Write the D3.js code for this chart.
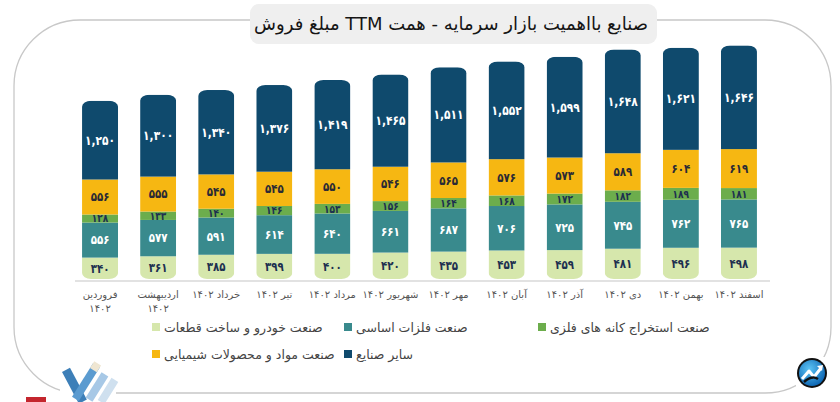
<!DOCTYPE html>
<html>
<head>
<meta charset="utf-8">
<script src="https://cdn.jsdelivr.net/npm/d3@7/dist/d3.min.js"></script>
<style>
  html, body { margin: 0; padding: 0; background: #ffffff; }
  svg { display: block; font-family: "DejaVu Sans", sans-serif; }
</style>
</head>
<body>
<svg id="chart" width="840" height="402"></svg>
<script>
// ---------------- data ----------------
const title = "مبلغ فروش TTM صنایع بااهمیت بازار سرمایه - همت";
const categories = ["فروردین ۱۴۰۲", "اردیبهشت ۱۴۰۲", "خرداد ۱۴۰۲", "تیر ۱۴۰۲", "مرداد ۱۴۰۲", "شهریور ۱۴۰۲",
                    "مهر ۱۴۰۲", "آبان ۱۴۰۲", "آذر ۱۴۰۲", "دی ۱۴۰۲", "بهمن ۱۴۰۲", "اسفند ۱۴۰۲"];
const seriesNames = ["صنعت خودرو و ساخت قطعات", "صنعت فلزات اساسی", "صنعت استخراج کانه های فلزی",
                     "صنعت مواد و محصولات شیمیایی", "سایر صنایع"];
const carValues      = [340, 361, 385, 399, 400, 420, 435, 453, 459, 481, 496, 498];
const metalsValues   = [556, 577, 591, 614, 640, 661, 687, 706, 725, 745, 762, 765];
const miningValues   = [128, 133, 140, 146, 153, 156, 164, 168, 172, 182, 189, 181];
const chemValues     = [556, 555, 545, 545, 550, 546, 565, 576, 573, 589, 604, 619];
const otherValues    = [1250, 1300, 1340, 1376, 1419, 1465, 1511, 1552, 1599, 1648, 1621, 1646];

// ---------------- styles ----------------
const colors = ["#d6e7ac", "#398a8d", "#6cad4c", "#f6b712", "#0f4a6d"];
const labelColors = ["#1d3050", "#ffffff", "#1d3050", "#2a2a35", "#ffffff"];

const seriesValues = [carValues, metalsValues, miningValues, chemValues, otherValues];
const keys = ["car", "metals", "mining", "chem", "other"];
const rows = categories.map((c, i) => {
  const r = { cat: c };
  keys.forEach((k, j) => r[k] = seriesValues[j][i]);
  return r;
});

const fa = s => String(s).replace(/\d/g, d => "۰۱۲۳۴۵۶۷۸۹"[+d]);
const fmt = v => fa(d3.format(",")(v));
const LRM = "\u200E";

const svg = d3.select("#chart");
const defs = svg.append("defs");

// ---------------- frame ----------------
svg.append("rect").attr("x", 14).attr("y", 20).attr("width", 817).attr("height", 373)
  .attr("rx", 66).attr("ry", 66).attr("fill", "none").attr("stroke", "#c8c8c8").attr("stroke-width", 1.3);

// title box
svg.append("rect").attr("x", 250).attr("y", 4).attr("width", 407).attr("height", 40)
  .attr("rx", 9).attr("fill", "#efefef");
svg.append("text").attr("x", 451).attr("y", 25).attr("text-anchor", "middle")
  .attr("direction", "ltr")
  .attr("dominant-baseline", "middle").attr("font-size", 18).attr("fill", "#151515")
  .text(LRM + title);

// ---------------- scales ----------------
const x = d3.scaleBand().domain(categories).range([71, 768]).paddingInner(0.38).paddingOuter(0.19);
const y = d3.scaleLinear().domain([0, 3700]).range([279, 46]);

const stack = d3.stack().keys(keys)(rows);

// baseline
svg.append("line").attr("x1", 75).attr("x2", 770).attr("y1", 281).attr("y2", 281)
  .attr("stroke", "#e2e2e2").attr("stroke-width", 2);

// clip paths for rounded bars
rows.forEach((r, i) => {
  const total = keys.reduce((s, k) => s + r[k], 0);
  defs.append("clipPath").attr("id", "clip" + i)
    .append("rect")
    .attr("x", x(r.cat)).attr("width", x.bandwidth())
    .attr("y", y(total)).attr("height", y(0) - y(total))
    .attr("rx", 9).attr("ry", 6);
});

const barG = svg.append("g");
stack.forEach((layer, li) => {
  layer.forEach((d, i) => {
    barG.append("rect")
      .attr("clip-path", `url(#clip${i})`)
      .attr("x", x(d.data.cat))
      .attr("width", x.bandwidth())
      .attr("y", y(d[1]))
      .attr("height", y(d[0]) - y(d[1]))
      .attr("fill", colors[li]);
  });
});

// value labels
stack.forEach((layer, li) => {
  layer.forEach((d, i) => {
    const cx = x(d.data.cat) + x.bandwidth() / 2;
    const cy = (y(d[0]) + y(d[1])) / 2;
    svg.append("g").attr("transform", `translate(${cx},${cy}) scale(0.82,1)`)
      .append("text")
      .attr("text-anchor", "middle")
      .attr("dominant-baseline", "central")
      .attr("font-size", li === 2 ? 11 : (li === 4 ? 13 : 12.5))
      .attr("font-weight", "bold")
      .attr("fill", labelColors[li])
      .text(fmt(d[1] - d[0]));
  });
});

// x labels
categories.forEach((c, i) => {
  const cx = x(c) + x.bandwidth() / 2;
  const parts = c.split(" ");
  const t = svg.append("text").attr("x", cx).attr("y", 298).attr("text-anchor", "middle")
    .attr("font-size", 10).attr("fill", "#555");
  if (parts[0].length >= 7) {
    t.append("tspan").attr("x", cx).text(parts[0]);
    t.append("tspan").attr("x", cx).attr("dy", 14).text(parts[1]);
  } else {
    t.text(c);
  }
});

// ---------------- legend ----------------
const legendPos = [
  { s: 0, x: 152, y: 327 },
  { s: 1, x: 344, y: 327 },
  { s: 2, x: 538, y: 327 },
  { s: 3, x: 152, y: 354 },
  { s: 4, x: 344, y: 354 }
];
legendPos.forEach(p => {
  svg.append("rect").attr("x", p.x).attr("y", p.y - 4).attr("width", 8).attr("height", 8)
    .attr("fill", colors[p.s]);
  svg.append("text").attr("x", p.x + 12).attr("y", p.y).attr("dominant-baseline", "central")
    .attr("font-size", 12.5).attr("fill", "#444").text(seriesNames[p.s]);
});

// ---------------- decorations ----------------
// bottom-right logo
const grad = defs.append("radialGradient").attr("id", "lgGrad").attr("cx", "40%").attr("cy", "35%").attr("r", "70%");
grad.append("stop").attr("offset", "0%").attr("stop-color", "#5cc4f5");
grad.append("stop").attr("offset", "100%").attr("stop-color", "#0a62b0");
svg.append("rect").attr("x", 796).attr("y", 357).attr("width", 34).attr("height", 34).attr("fill", "#fff");
const lg = svg.append("g").attr("transform", "translate(812,373)");
lg.append("circle").attr("r", 15).attr("fill", "#111");
lg.append("circle").attr("r", 13).attr("fill", "url(#lgGrad)");
lg.append("path").attr("d", "M-10,6 L-3,-2 L2,4 L9,-5").attr("fill", "none").attr("stroke", "#fff")
  .attr("stroke-width", 3).attr("stroke-linejoin", "round");
lg.append("path").attr("d", "M5,-7 L11,-8 L10,-2 Z").attr("fill", "#fff");
lg.append("path").attr("d", "M-8,9 Q0,2 6,6").attr("fill", "none").attr("stroke", "#111").attr("stroke-width", 2.5);

// bottom-left logo
const bl = svg.append("g").attr("transform", "translate(62,358)");
bl.append("rect").attr("x", -2).attr("y", -2).attr("width", 56).attr("height", 48).attr("fill", "#fff");
bl.append("rect").attr("x", 8).attr("y", 10).attr("width", 9).attr("height", 36).attr("fill", "#3d7fb8")
  .attr("transform", "rotate(-28,12,28)");
bl.append("rect").attr("x", 20).attr("y", 4).attr("width", 8).attr("height", 40).attr("fill", "#5b9bd0")
  .attr("transform", "rotate(32,24,24)");
bl.append("rect").attr("x", 31).attr("y", 14).attr("width", 8).attr("height", 30).attr("fill", "#a7c8e6")
  .attr("transform", "rotate(32,35,29)");
bl.append("rect").attr("x", 42).attr("y", 20).attr("width", 8).attr("height", 26).attr("fill", "#cfe0ef")
  .attr("transform", "rotate(32,46,33)");
bl.append("rect").attr("x", 20).attr("y", 2).attr("width", 8).attr("height", 8).attr("fill", "#efe6d2")
  .attr("transform", "rotate(32,24,24)");
svg.append("rect").attr("x", 26).attr("y", 397).attr("width", 20).attr("height", 6).attr("fill", "#c4262e");
</script>
</body>
</html>
